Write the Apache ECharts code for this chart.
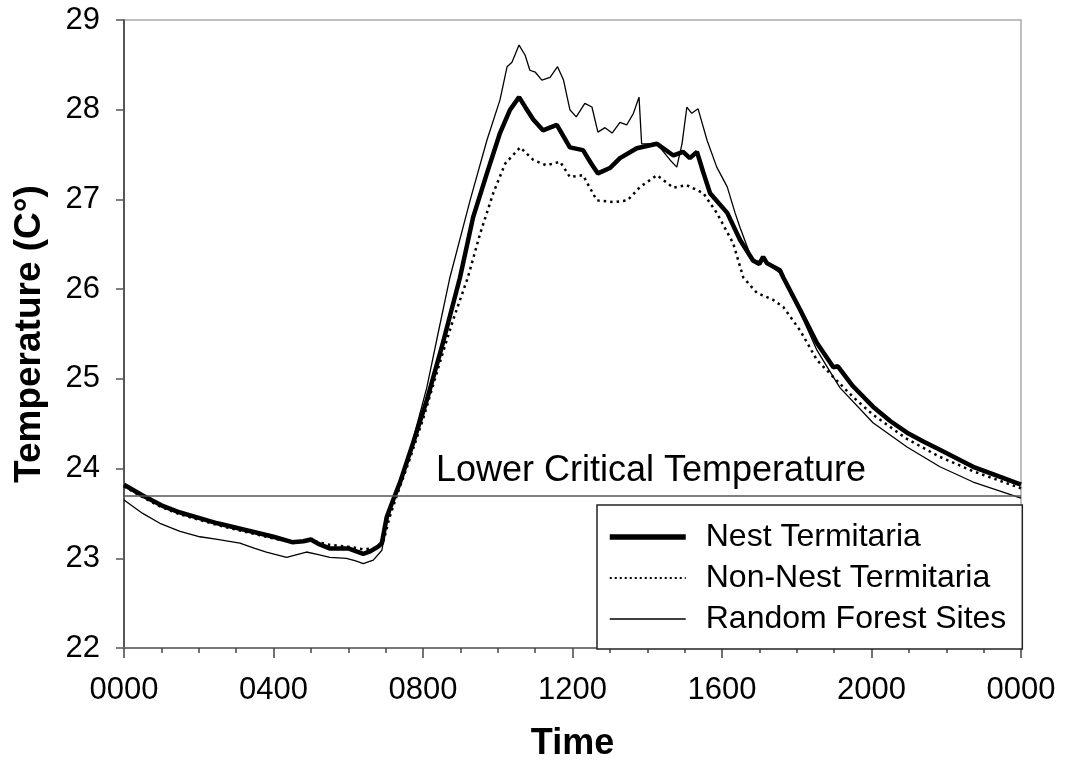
<!DOCTYPE html>
<html>
<head>
<meta charset="utf-8">
<script src="https://cdn.jsdelivr.net/npm/echarts@6/dist/echarts.min.js"></script>
<style>
  html, body { margin: 0; padding: 0; background: #fff; }
  #chart { width: 1073px; height: 763px; }
</style>
</head>
<body>
<div id="chart"></div>
<script>
// ---- data (hour of day, temperature °C) ----
const xTickLabels = ['0000', '0400', '0800', '1200', '1600', '2000', '0000'];
const seriesNames = ['Nest Termitaria', 'Non-Nest Termitaria', 'Random Forest Sites'];
const lowerCriticalTemp = 23.7;
const lowerCriticalLabel = 'Lower Critical Temperature';

const nestHours = [0, 0.5, 1.0, 1.5, 2.0, 2.5, 3.0, 3.5, 4.0, 4.5, 4.8, 5.0, 5.2, 5.5, 6.0, 6.4, 6.6, 6.8, 6.9,
  7.03, 7.2, 7.38, 7.73, 8.1, 8.5, 8.99, 9.34, 9.71, 10.06, 10.33, 10.57, 10.75, 10.95, 11.21, 11.58, 11.93,
  12.28, 12.5, 12.68, 13.0, 13.27, 13.72, 14.26, 14.7, 14.96, 15.14, 15.33, 15.5, 15.68, 16.14, 16.48, 16.83,
  17.0, 17.1, 17.2, 17.55, 17.64, 18.09, 18.54, 18.98, 19.1, 19.5, 20.04, 20.5, 20.95, 21.4, 21.83, 22.3,
  22.72, 23.3, 24];
const nestTemps = [23.82, 23.70, 23.59, 23.51, 23.45, 23.39, 23.34, 23.29, 23.24, 23.18, 23.19, 23.21, 23.16, 23.11, 23.11, 23.05, 23.08, 23.13, 23.17,
  23.46, 23.65, 23.84, 24.28, 24.76, 25.35, 26.13, 26.80, 27.29, 27.74, 28.00, 28.14, 28.02, 27.89, 27.77, 27.83, 27.58,
  27.55, 27.40, 27.29, 27.35, 27.46, 27.57, 27.62, 27.49, 27.53, 27.46, 27.53, 27.30, 27.07, 26.85, 26.55, 26.32,
  26.28, 26.36, 26.29, 26.21, 26.13, 25.77, 25.40, 25.13, 25.14, 24.92, 24.69, 24.53, 24.40, 24.30, 24.21, 24.11,
  24.02, 23.93, 23.82];

const nonNestHours = [0, 0.5, 1.0, 1.5, 2.0, 2.5, 3.0, 3.5, 4.0, 4.5, 5.0, 5.5, 6.0, 6.4, 6.8, 6.95, 7.1, 7.3, 7.6,
  8.0, 8.5, 8.8, 9.2, 9.53, 9.88, 10.2, 10.6, 10.95, 11.3, 11.67, 11.93, 12.28, 12.65, 13.1, 13.47, 13.81,
  14.26, 14.7, 15.05, 15.5, 15.86, 16.3, 16.57, 16.93, 17.37, 17.64, 18.09, 18.54, 18.98, 19.5, 20.04, 20.95,
  21.83, 22.72, 24];
const nonNestTemps = [23.80, 23.68, 23.57, 23.49, 23.43, 23.37, 23.32, 23.27, 23.22, 23.18, 23.20, 23.15, 23.13, 23.10, 23.12, 23.20, 23.45, 23.70, 24.05,
  24.55, 25.25, 25.65, 26.13, 26.62, 27.07, 27.40, 27.58, 27.44, 27.38, 27.42, 27.25, 27.27, 26.99, 26.97, 26.99, 27.14,
  27.27, 27.13, 27.16, 27.07, 26.85, 26.51, 26.13, 25.96, 25.88, 25.80, 25.54, 25.21, 25.02, 24.80, 24.60, 24.33,
  24.13, 23.97, 23.78];

const randomHours = [0, 0.5, 0.96, 1.5, 2.03, 2.5, 3.1, 3.5, 3.81, 4.35, 4.88, 5.2, 5.51, 5.95, 6.2, 6.4, 6.67, 6.9,
  7.03, 7.2, 7.4, 7.73, 8.1, 8.4, 8.72, 9.26, 9.71, 10.06, 10.25, 10.38, 10.46, 10.57, 10.73, 10.86, 11.0, 11.18,
  11.4, 11.6, 11.76, 11.93, 12.1, 12.33, 12.52, 12.68, 12.87, 13.06, 13.27, 13.45, 13.63, 13.78, 13.85, 14.26,
  14.61, 14.79, 14.93, 15.06, 15.19, 15.36, 15.6, 15.86, 16.14, 16.35, 16.48, 16.83, 17.1, 17.55, 18.09, 18.54,
  18.98, 19.16, 20.04, 20.95, 21.83, 22.72, 24];
const randomTemps = [23.65, 23.50, 23.39, 23.30, 23.24, 23.21, 23.17, 23.11, 23.07, 23.01, 23.07, 23.04, 23.01, 23.00, 22.97, 22.94, 22.98, 23.09,
  23.40, 23.62, 23.86, 24.32, 24.90, 25.50, 26.13, 26.99, 27.66, 28.11, 28.48, 28.53, 28.61, 28.72, 28.61, 28.44, 28.42, 28.33,
  28.36, 28.48, 28.33, 28.00, 27.92, 28.07, 28.03, 27.75, 27.80, 27.74, 27.86, 27.83, 27.96, 28.14, 27.62, 27.62,
  27.44, 27.36, 27.62, 28.03, 27.96, 28.01, 27.66, 27.36, 27.14, 26.85, 26.69, 26.30, 26.32, 26.18, 25.74, 25.32,
  25.02, 24.90, 24.51, 24.24, 24.02, 23.85, 23.67];

const zip = (xs, ys) => xs.map((x, i) => [x, ys[i]]);

const FONT = '"Liberation Sans", Arial, sans-serif';
const chart = echarts.init(document.getElementById('chart'), null, { renderer: 'canvas' });

chart.setOption({
  animation: false,
  backgroundColor: '#fff',
  color: ['#000', '#000', '#000'],
  grid: {
    left: 124, right: 52, top: 20, bottom: 115,
    containLabel: false, outerBoundsMode: 'none',
    show: true, borderColor: '#aaa', borderWidth: 1.5, backgroundColor: 'transparent'
  },
  xAxis: {
    type: 'value', min: 0, max: 24, interval: 4,
    name: 'Time', nameLocation: 'middle', nameGap: 78,
    nameTextStyle: { fontFamily: FONT, fontSize: 36, fontWeight: 'bold', color: '#000' },
    axisLine: { show: true, lineStyle: { color: '#777', width: 2 } },
    axisTick: { show: true, inside: false, length: 10, lineStyle: { color: '#444', width: 1.5 } },
    minorTick: { show: true, splitNumber: 4, length: 5, lineStyle: { color: '#444', width: 1.5 } },
    splitLine: { show: false },
    axisLabel: {
      fontFamily: FONT, fontSize: 31, color: '#000', margin: 27,
      formatter: v => xTickLabels[Math.round(v / 4)]
    }
  },
  yAxis: {
    type: 'value', min: 22, max: 29, interval: 1,
    name: 'Temperature (C°)', nameLocation: 'middle', nameGap: 76, nameRotate: 90,
    nameTextStyle: { fontFamily: FONT, fontSize: 37, fontWeight: 'bold', color: '#000' },
    axisLine: { show: true, lineStyle: { color: '#333', width: 1.5 } },
    axisTick: { show: true, inside: false, length: 8, lineStyle: { color: '#555', width: 1.5 } },
    splitLine: { show: false },
    axisLabel: { fontFamily: FONT, fontSize: 31, color: '#000', margin: 24 }
  },
  legend: {
    orient: 'vertical', left: 597, top: 505,
    backgroundColor: '#fff', borderColor: '#222', borderWidth: 1.5,
    padding: [16, 16, 14, 10],
    itemWidth: 76, itemHeight: 30, itemGap: 9,
    itemStyle: { opacity: 0 },
    textStyle: { fontFamily: FONT, fontSize: 32, color: '#000', padding: [0, 0, 0, 15] },
    data: [
      { name: seriesNames[0], lineStyle: { width: 5.5, color: '#000' } },
      { name: seriesNames[1], lineStyle: { width: 2, color: '#000', type: [2, 3] } },
      { name: seriesNames[2], lineStyle: { width: 1.3, color: '#000' } }
    ]
  },
  series: [
    {
      name: seriesNames[0], type: 'line', data: zip(nestHours, nestTemps),
      showSymbol: false, symbol: 'none', z: 4,
      itemStyle: { color: '#000' },
      lineStyle: { color: '#000', width: 4.5 },
      markLine: {
        silent: true, symbol: 'none', animation: false,
        lineStyle: { color: '#555', width: 1.5, type: 'solid' },
        label: { show: false },
        data: [{ yAxis: lowerCriticalTemp }]
      }
    },
    {
      name: seriesNames[1], type: 'line', data: zip(nonNestHours, nonNestTemps),
      showSymbol: false, symbol: 'none', z: 3,
      itemStyle: { color: '#000' },
      lineStyle: { color: '#000', width: 2.5, type: [2.5, 4] }
    },
    {
      name: seriesNames[2], type: 'line', data: zip(randomHours, randomTemps),
      showSymbol: false, symbol: 'none', z: 2,
      itemStyle: { color: '#000' },
      lineStyle: { color: '#000', width: 1.3 }
    }
  ]
});

// annotation text above the lower critical temperature line
const p = chart.convertToPixel({ gridIndex: 0 }, [14.1, lowerCriticalTemp]);
chart.setOption({
  graphic: [{
    type: 'text', x: p[0], y: p[1] - 6, z: 10,
    style: {
      text: lowerCriticalLabel, fontFamily: FONT, fontSize: 36, fill: '#000',
      align: 'center', verticalAlign: 'bottom'
    }
  }]
});
</script>
</body>
</html>
